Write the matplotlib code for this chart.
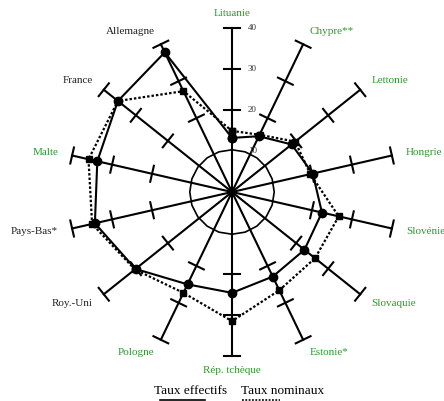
import matplotlib
matplotlib.use("Agg")
import matplotlib.pyplot as plt
import numpy as np

# pays, dans le sens des aiguilles d'une montre en partant du haut
pays = ['Lituanie', 'Chypre**', 'Lettonie', 'Hongrie', 'Slovénie', 'Slovaquie',
        'Estonie*', 'Rép. tchèque', 'Pologne', 'Roy.-Uni', 'Pays-Bas*', 'Malte',
        'France', 'Allemagne']
verts = [True, True, True, True, True, True, True, True, True, False, False, True,
         False, False]
taux_effectifs = [13.2, 15.1, 18.6, 20.2, 22.5, 22.6, 22.9, 24.6, 25.0, 30.1,
                  34.3, 33.7, 35.6, 37.8]
taux_nominaux = [14.9, 15.5, 19.7, 19.6, 26.7, 25.9, 26.6, 31.5, 27.3, 30.3,
                 35.0, 35.9, 35.6, 27.3]
graduations = [10, 20, 30, 40]

VERT = '#2e9a2e'
SCALE = 4.1  # pixels par unité

n = len(pays)
ang = np.arange(n) * 2 * np.pi / n


def xy(r, a):
    return np.asarray(r) * np.sin(a), np.asarray(r) * np.cos(a)


fig = plt.figure(figsize=(4.44, 4.01), dpi=100)
ax = fig.add_axes([0, 0, 1, 1])
ax.set_xlim(-232 / SCALE, (444 - 232) / SCALE)
ax.set_ylim(-(401 - 192) / SCALE, 192 / SCALE)
ax.axis('off')

serif = 'Liberation Serif'

# rayons et graduations
for a in ang:
    x, y = xy(40, a)
    ax.plot([0, x], [0, y], color='black', lw=1.5, zorder=1)
    for g in graduations[1:]:
        cx, cy = xy(g, a)
        h = 2.0
        ax.plot([cx - h * np.cos(a), cx + h * np.cos(a)],
                [cy + h * np.sin(a), cy - h * np.sin(a)],
                color='black', lw=1.5, zorder=1)

# cercle intérieur à 10
t = np.linspace(0, 2 * np.pi, 21)
cx, cy = xy(10.3, t)
ax.plot(cx, cy, color='black', lw=1.2, zorder=1)

for g in graduations:
    ax.text(3.9, g, str(g), fontsize=6.5, family=serif, color='#333333',
            ha='left', va='center')

# séries
a_closed = np.append(ang, ang[0])
xe, ye = xy(np.append(taux_effectifs, taux_effectifs[0]), a_closed)
xn, yn = xy(np.append(taux_nominaux, taux_nominaux[0]), a_closed)
ax.plot(xn, yn, color='black', lw=1.6, dashes=(1.1, 0.9), marker='s', ms=4,
        zorder=2)
ax.plot(xe, ye, color='black', lw=1.5, marker='o', ms=6, zorder=3)

# étiquettes des pays
for p, a, v in zip(pays, ang, verts):
    x, y = xy(43.5, a)
    s = np.sin(a)
    ha = 'left' if s > 0.3 else ('right' if s < -0.3 else 'center')
    ax.text(x, y, p, fontsize=8, family=serif, color=VERT if v else '#222222',
            ha=ha, va='center')

# légende
ax.text(-10.2, -48.6, 'Taux effectifs', fontsize=9.5, family=serif,
        ha='center', va='center')
ax.text(12.4, -48.6, 'Taux nominaux', fontsize=9.5, family=serif,
        ha='center', va='center')
ax.plot([-17.6, -6.6], [-50.7, -50.7], color='black', lw=1.2)
ax.plot([2.4, 11.7], [-50.7, -50.7], color='black', lw=1.2, dashes=(1.1, 0.9))

fig.savefig('out.png', dpi=100)
